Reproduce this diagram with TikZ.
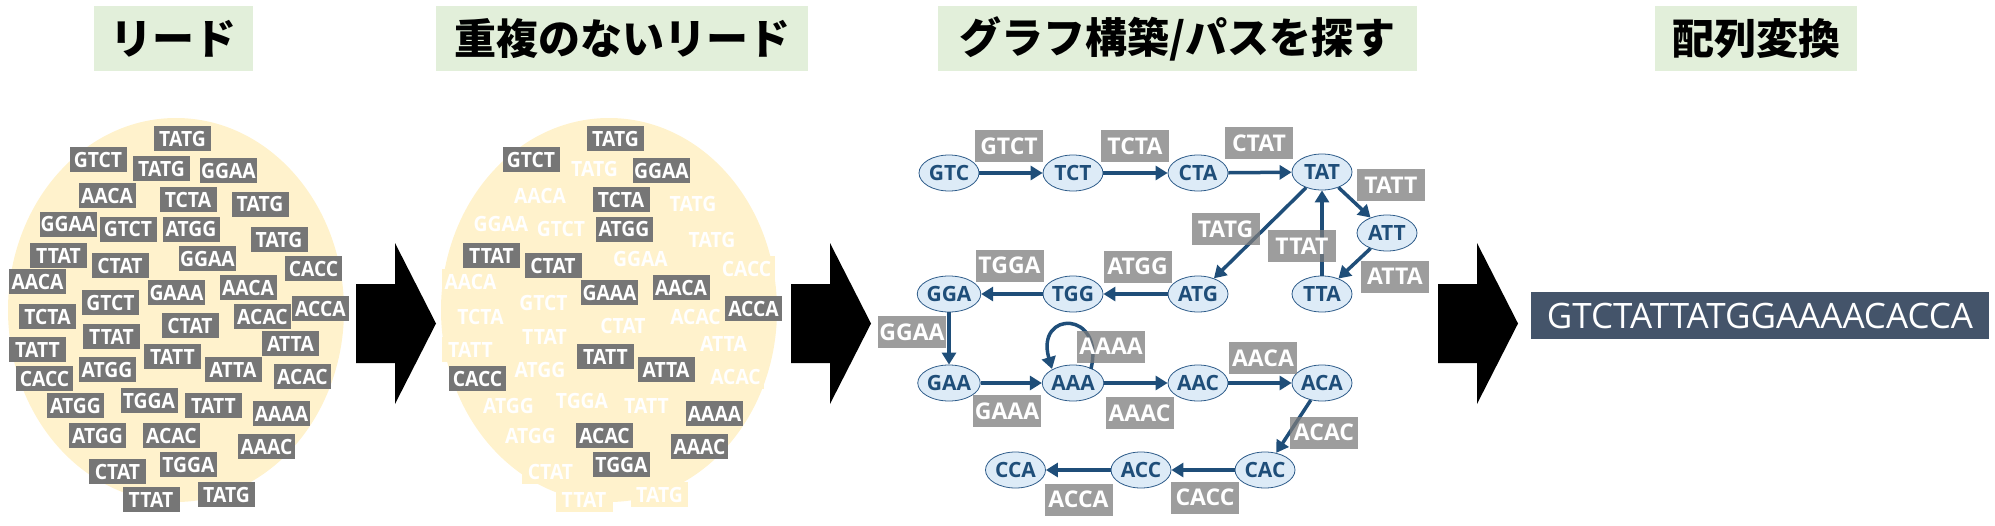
\documentclass[tikz,border=0pt]{standalone}
\usepackage{fontspec}
\setmainfont{Open Sans}
\newfontfamily\labfont{Open Sans}
\newfontfamily\readfont[FakeStretch=0.92]{Open Sans}
\newfontfamily\jpfont{Noto Sans CJK JP}
\usetikzlibrary{arrows.meta,calc,shapes.geometric}
\definecolor{cream}{HTML}{FFF2CC}
\definecolor{titlegreen}{HTML}{E2EFDA}
\definecolor{readgray}{HTML}{767676}
\definecolor{labgray}{HTML}{7C7C7C}
\definecolor{nodefill}{HTML}{DDEBF7}
\definecolor{nodeline}{HTML}{2E5C8A}
\definecolor{edgeblue}{HTML}{1F4E79}
\definecolor{resultbg}{HTML}{44546A}
\tikzset{
  titlebox/.style={fill=titlegreen, inner sep=0pt, minimum height=65pt, text=black,
    font=\jpfont\bfseries\fontsize{42}{46}\selectfont},
  blob/.style={ellipse, fill=cream, inner sep=0pt, minimum width=336pt, minimum height=384pt},
  readbox/.style={fill=readgray, text=white, inner sep=0pt, minimum width=57pt, minimum height=25pt,
    font=\readfont\bfseries\fontsize{21}{24}\selectfont},
  fadedbox/.style={readbox, fill=cream},
  gnode/.style={ellipse, draw=nodeline, line width=0.8pt, fill=nodefill, minimum width=60pt,
    minimum height=36pt, inner sep=0pt, text=edgeblue, font=\labfont\bfseries\fontsize{21}{24}\selectfont},
  glabel/.style={fill=labgray, fill opacity=0.75, text opacity=1, text=white, inner sep=0pt,
    minimum width=68pt, minimum height=32pt, font=\labfont\bfseries\fontsize{23}{26}\selectfont},
  edge/.style={draw=edgeblue, line width=3.5pt, -{Triangle[length=12pt,width=14pt]}},
  bigarrow/.style={fill=black}
}
\begin{document}
\begin{tikzpicture}[x=1pt,y=-1pt]
\useasboundingbox (0,0) rectangle (1995,525);
% titles
\node[titlebox, minimum width=159pt] (t1) at (173.5,38.5) {リード};
\node[titlebox, minimum width=372pt] (t2) at (622,38.5) {重複のないリード};
\node[titlebox, minimum width=479pt] (t3) at (1177.5,38.5) {グラフ構築/パスを探す};
\node[titlebox, minimum width=202pt] (t4) at (1756,38.5) {配列変換};
% read pools
\node[blob] (pool1) at (176,310) {};
\node[blob] (pool2) at (609,310) {};
\def\readlist{182.5/138.5/TATG/1, 98/159.5/GTCT/1, 161.5/168.5/TATG/0, 228.5/170.5/GGAA/1,
 107/195.5/AACA/0, 188/199.5/TCTA/1, 260/204/TATG/0, 68/224/GGAA/0, 128/229/GTCT/0,
 191/229/ATGG/1, 279/239.5/TATG/0, 58.5/255.5/TTAT/1, 120/265.5/CTAT/1, 207.5/258.5/GGAA/0,
 313.5/268.5/CACC/0, 37.5/281.5/AACA/0, 176.5/292.5/GAAA/1, 248/287.5/AACA/1, 110.5/302.5/GTCT/0,
 320.5/308.5/ACCA/1, 47.5/316.5/TCTA/0, 262.5/316.5/ACAC/0, 190/325.5/CTAT/0, 111.5/336.5/TTAT/0,
 290.5/343.5/ATTA/0, 37.5/349.5/TATT/0, 172.5/356.5/TATT/1, 107/369.5/ATGG/0, 233/369.5/ATTA/1,
 44.5/378.5/CACC/1, 302.5/376.5/ACAC/0, 75.5/405.5/ATGG/0, 149/400.5/TGGA/0, 213.5/405.5/TATT/0,
 281.5/413.5/AAAA/1, 97.5/435.5/ATGG/0, 171.5/435.5/ACAC/1, 266.5/446.5/AAAC/1, 117.5/471.5/CTAT/0,
 188.5/464.5/TGGA/1, 151/499.5/TTAT/0, 226.5/494.5/TATG/0}
\foreach \x/\y/\t/\h [count=\i] in \readlist {
  \node[readbox] (r\i) at (\x,\y) {\t};
}
\foreach \x/\y/\t/\h [count=\i] in \readlist {
  \ifnum\h=0 \node[fadedbox] (s\i) at (\x+433,\y) {\t};\fi
}
\foreach \x/\y/\t/\h [count=\i] in \readlist {
  \ifnum\h=1 \node[readbox] (s\i) at (\x+433,\y) {\t};\fi
}
% big arrows
\foreach \a [count=\k] in {356,791,1438} {
  \fill[bigarrow] (\a,284) -- (\a+39,284) -- (\a+39,243) -- (\a+80,323.5)
     -- (\a+39,404) -- (\a+39,363) -- (\a,363) -- cycle;
}
% graph nodes
\node[gnode] (GTC) at (949,173) {GTC};
\node[gnode] (TCT) at (1073,173) {TCT};
\node[gnode] (CTA) at (1198,173) {CTA};
\node[gnode] (TAT) at (1322,172) {TAT};
\node[gnode] (ATT) at (1387,233) {ATT};
\node[gnode] (TTA) at (1322,294) {TTA};
\node[gnode] (ATG) at (1198,294) {ATG};
\node[gnode] (TGG) at (1073,294) {TGG};
\node[gnode] (GGA) at (949,294) {GGA};
\node[gnode] (GAA) at (949,383) {GAA};
\node[gnode] (AAA) at (1073,383) {AAA};
\node[gnode] (AAC) at (1198,383) {AAC};
\node[gnode] (ACA) at (1322,383) {ACA};
\node[gnode] (CAC) at (1265,470) {CAC};
\node[gnode] (ACC) at (1141,470) {ACC};
\node[gnode] (CCA) at (1015.5,470) {CCA};
% edges
\draw[edge] (GTC) -- (TCT);
\draw[edge] (TCT) -- (CTA);
\draw[edge] (CTA) -- (TAT);
\draw[edge] (TAT) -- (ATT);
\draw[edge] (ATT) -- (TTA);
\draw[edge] (TTA) -- (TAT);
\draw[edge] (TAT) -- (ATG);
\draw[edge] (ATG) -- (TGG);
\draw[edge] (TGG) -- (GGA);
\draw[edge] (GGA) -- (GAA);
\draw[edge] (GAA) -- (AAA);
\draw[edge] ($(AAA)+(18,-14)$) .. controls ($(AAA)+(32,-73)$) and ($(AAA)+(-38,-73)$) .. ($(AAA)+(-21,-14)$);
\draw[edge] (AAA) -- (AAC);
\draw[edge] (AAC) -- (ACA);
\draw[edge] (ACA) -- (CAC);
\draw[edge] (CAC) -- (ACC);
\draw[edge] (ACC) -- (CCA);
% edge labels
\node[glabel] (lGTCT) at (1009,146) {GTCT};
\node[glabel] (lTCTA) at (1135,146) {TCTA};
\node[glabel] (lCTAT) at (1259,143) {CTAT};
\node[glabel] (lTATT) at (1391,185) {TATT};
\node[glabel] (lTATG) at (1225.5,229) {TATG};
\node[glabel] (lTTAT) at (1302,246) {TTAT};
\node[glabel] (lATTA) at (1395,276.5) {ATTA};
\node[glabel] (lTGGA) at (1009.5,265.5) {TGGA};
\node[glabel] (lATGG) at (1137.5,266.5) {ATGG};
\node[glabel] (lGGAA) at (912,332) {GGAA};
\node[glabel] (lGAAA) at (1007,411) {GAAA};
\node[glabel] (lAAAA) at (1111,346.5) {AAAA};
\node[glabel] (lAAAC) at (1139.5,413) {AAAC};
\node[glabel] (lAACA) at (1263,358) {AACA};
\node[glabel] (lACAC) at (1324,432.5) {ACAC};
\node[glabel] (lCACC) at (1205,497.5) {CACC};
\node[glabel] (lACCA) at (1078.5,499.5) {ACCA};
% result
\node[fill=resultbg, text=white, inner sep=0pt, minimum width=458pt, minimum height=47pt,
  font=\fontsize{35}{38}\selectfont] (result) at (1760,315.5) {GTCTATTATGGAAAACACCA};
\end{tikzpicture}
\end{document}
